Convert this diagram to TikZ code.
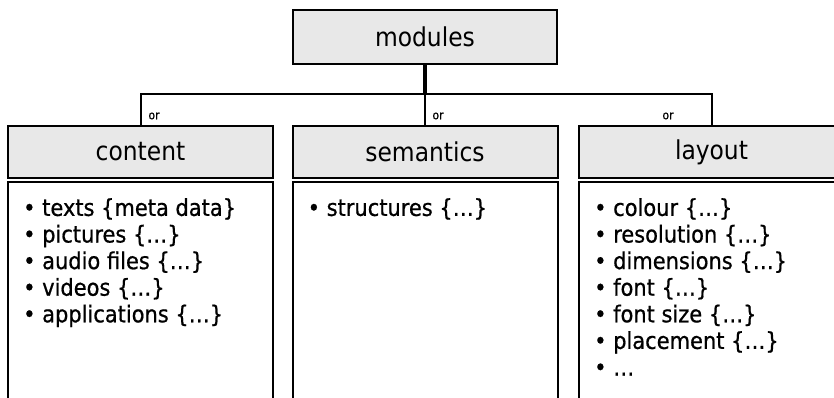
\documentclass[tikz,border=0pt]{standalone}
\usepackage{xcolor}
\usepackage{fontspec}
\setmainfont{DejaVu Sans Condensed}[FakeBold=0.7]
\newfontfamily\headfont{DejaVu Sans Condensed}
\usepackage{tikz}
\usetikzlibrary{positioning,calc}

\definecolor{headgray}{HTML}{E8E8E8}

\tikzset{
    headbox/.style={draw, line width=2pt, fill=headgray, inner sep=0pt,
        minimum width=265pt, minimum height=52pt, font=\headfont\fontsize{26}{30}\selectfont},
    bodybox/.style={draw, line width=2pt, inner sep=0pt,
        minimum width=265pt, minimum height=226pt},
    itemlist/.style={anchor=north west, align=left, inner sep=0pt,
        font=\fontsize{23.3}{26.6}\selectfont},
    ortext/.style={inner sep=0pt, font=\fontsize{12}{14}\selectfont},
    link/.style={line width=2pt},
}

\begin{document}
\begin{tikzpicture}[x=1pt,y=-1pt]
    \useasboundingbox (0,0) rectangle (834,398);
    \clip (0,0) rectangle (834,398);

    % top box
    \node[headbox, minimum width=264pt, minimum height=54pt] (modules) at (425,37) {modules};

    % the three headers
    \node[headbox] (content) at (140.5,152) {content};
    \node[headbox] (semantics) at (425,152) {semantics};
    \node[headbox] (layout) at (711.5,152) {layout};

    % bodies, open at the bottom of the page
    \node[bodybox, below=2pt of content] (contentbody) {};
    \node[bodybox, below=2pt of semantics] (semanticsbody) {};
    \node[bodybox, below=2pt of layout] (layoutbody) {};

    % lists
    \node[itemlist] (contentlist) at ($(contentbody.north west)+(16,17)$)
        {\textbullet\ texts \{meta data\}\\ \textbullet\ pictures \{…\}\\
         \textbullet\ audio files \{…\}\\ \textbullet\ videos \{…\}\\
         \textbullet\ applications \{…\}};
    \node[itemlist] (semanticslist) at ($(semanticsbody.north west)+(16,17)$)
        {\textbullet\ structures \{…\}};
    \node[itemlist] (layoutlist) at ($(layoutbody.north west)+(16,17)$)
        {\textbullet\ colour \{…\}\\ \textbullet\ resolution \{…\}\\
         \textbullet\ dimensions \{…\}\\ \textbullet\ font \{…\}\\
         \textbullet\ font size \{…\}\\ \textbullet\ placement \{…\}\\
         \textbullet\ …};

    % connectors
    \coordinate (bus) at (425,94);
    \draw[line width=4pt] (modules.south) -- (bus);
    \draw[link] (content.north) |- (bus) -| (layout.north);
    \draw[link] (bus) -- (semantics.north);

    \node[ortext] (or1) at (154,116) {or};
    \node[ortext] (or2) at (438,116) {or};
    \node[ortext] (or3) at (668,116) {or};
\end{tikzpicture}
\end{document}
